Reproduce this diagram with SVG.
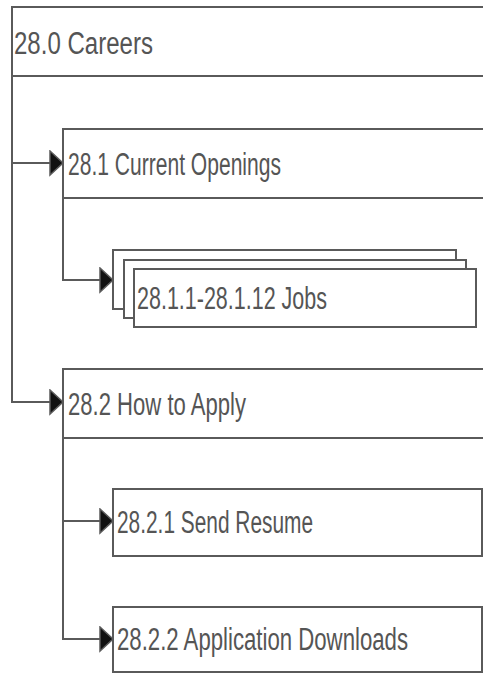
<svg xmlns="http://www.w3.org/2000/svg" width="483" height="673" viewBox="0 0 483 673">
<defs>
<style>
.ln{fill:none;stroke:#5a5a5a;stroke-width:2}
.bx{fill:#fff;stroke:#5a5a5a;stroke-width:2}
.t{font-family:"Liberation Sans",Arial,sans-serif;font-size:31px;fill:#555}
</style>
<marker id="arr" markerWidth="16" markerHeight="28" refX="14" refY="13" orient="auto" markerUnits="userSpaceOnUse">
<path d="M1,1 L14,13 L1,25 Z" fill="#111" stroke="#5a5a5a" stroke-width="1.5"/>
</marker>
</defs>
<rect width="483" height="673" fill="#fff"/>
<g id="connectors">
<path class="ln" d="M12,76 V402 H63" marker-end="url(#arr)"/>
<path class="ln" d="M12,163 H63" marker-end="url(#arr)"/>
<path class="ln" d="M63,198 V280 H113" marker-end="url(#arr)"/>
<path class="ln" d="M63,438 V639 H113" marker-end="url(#arr)"/>
<path class="ln" d="M63,521 H113" marker-end="url(#arr)"/>
</g>
<g id="n28_0">
<path class="ln" d="M484,7 H12 V76 H484"/>
<text class="t" x="14" y="54" textLength="139" lengthAdjust="spacingAndGlyphs">28.0 Careers</text>
</g>
<g id="n28_1">
<path class="ln" d="M484,129 H63 V198 H484"/>
<text class="t" x="68" y="175" textLength="213" lengthAdjust="spacingAndGlyphs">28.1 Current Openings</text>
</g>
<g id="n28_1_x">
<rect class="bx" x="113" y="250" width="343" height="59"/>
<rect class="bx" x="124" y="260" width="342" height="58"/>
<rect class="bx" x="134" y="269" width="342" height="58"/>
<text class="t" x="137" y="309" textLength="190" lengthAdjust="spacingAndGlyphs">28.1.1-28.1.12 Jobs</text>
</g>
<g id="n28_2">
<path class="ln" d="M484,369 H63 V438 H484"/>
<text class="t" x="68" y="415" textLength="178" lengthAdjust="spacingAndGlyphs">28.2 How to Apply</text>
</g>
<g id="n28_2_1">
<rect class="bx" x="113" y="489" width="369" height="67"/>
<text class="t" x="117" y="533" textLength="196" lengthAdjust="spacingAndGlyphs">28.2.1 Send Resume</text>
</g>
<g id="n28_2_2">
<rect class="bx" x="113" y="607" width="369" height="65"/>
<text class="t" x="117" y="650" textLength="291" lengthAdjust="spacingAndGlyphs">28.2.2 Application Downloads</text>
</g>
</svg>
